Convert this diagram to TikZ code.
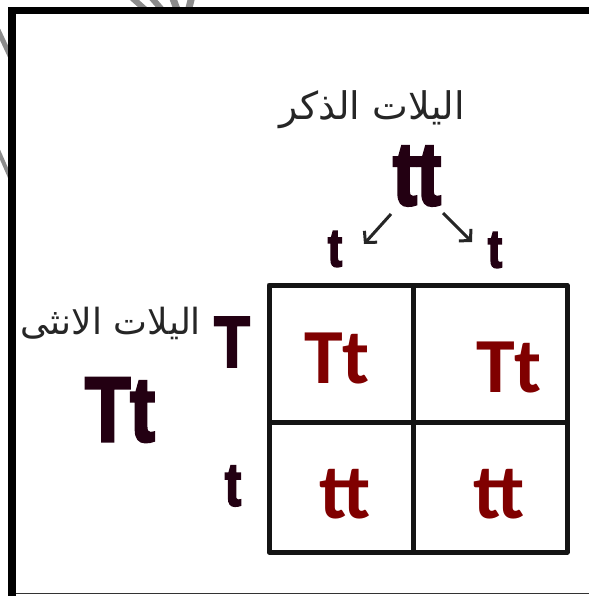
\documentclass[tikz,border=0pt]{standalone}
\usepackage{fontspec}
\usetikzlibrary{arrows.meta}
\TeXXeTstate=1
\newfontfamily\arabicfont[Script=Arabic]{DejaVu Sans}
\newfontfamily\heavy{Liberation Sans}[FakeStretch=0.8,FakeBold=3]
\newfontfamily\cellfont{Carlito}
\definecolor{inkdark}{RGB}{35,0,18}
\definecolor{cellred}{RGB}{128,0,0}
\definecolor{scribble}{RGB}{140,140,140}
\begin{document}
\begin{tikzpicture}[x=1pt,y=-1pt,
  allele/.style={inner sep=0pt, text=inkdark, font=\heavy\bfseries},
  celltxt/.style={inner sep=0pt, text=cellred, font=\cellfont\bfseries\fontsize{78}{80}\selectfont},
  arlabel/.style={inner sep=0pt, text=black!85},
  arr/.style={line width=3pt, draw=black!85, -{Straight Barb[length=8pt,width=17pt]}},
  gridline/.style={line width=5pt, draw=black!92, line join=round}]
\useasboundingbox (0,0) rectangle (589,596);
% gray scribble fragments outside the frame
\draw[scribble, line width=5pt] (-2,30) -- (12,60);
\draw[scribble, line width=4pt] (-2,150) -- (12,182);
\draw[scribble, line width=6pt] (130,-4) -- (148,12);
\draw[scribble, line width=6pt] (150,-4) -- (164,12);
\draw[scribble, line width=7pt] (172,-4) -- (178,12);
\draw[scribble, line width=7pt] (192,-4) -- (188,12);
\fill[white] (16,14) rectangle (589,592);
% frame
\fill[black] (8,7) rectangle (589,14);
\fill[black] (8,7) rectangle (16,596);
\draw[black!80, line width=1.5pt] (16,593.5) -- (589,593.5);
% labels
\node[arlabel, font=\arabicfont\fontsize{38}{40}\selectfont] (male) at (372,110) {\beginR اليلات الذكر\endR};
\node[arlabel, font=\arabicfont\fontsize{36}{38}\selectfont] (female) at (111,323) {\beginR اليلات الانثى\endR};
\node[allele, font=\heavy\bfseries\fontsize{90}{92}\selectfont] (tt) at (417,176) {tt};
\node[allele, font=\heavy\bfseries\fontsize{54}{56}\selectfont] (tl) at (335,249) {t};
\node[allele, font=\heavy\bfseries\fontsize{54}{56}\selectfont] (tr) at (495,250) {t};
\node[allele, font=\heavy\bfseries\fontsize{72}{74}\selectfont] (T) at (232,342) {T};
\node[allele, font=\heavy\bfseries\fontsize{61}{63}\selectfont] (tb) at (233,486) {t};
\node[allele, font=\heavy\bfseries\fontsize{92}{94}\selectfont] (Tt) at (120,410) {Tt};
% arrows
\coordinate (a1s) at (391,214);
\coordinate (a1e) at (364,244);
\coordinate (a2s) at (443,213);
\coordinate (a2e) at (472,242);
\draw[arr] (a1s) -- (a1e);
\draw[arr] (a2s) -- (a2e);
% punnett square
\draw[gridline] (269,285) rectangle (567,552);
\draw[gridline] (413,285) -- (413,552);
\draw[gridline] (269,422) -- (567,422);
\node[celltxt] (c11) at (337,358) {Tt};
\node[celltxt] (c12) at (509,367) {Tt};
\node[celltxt] (c21) at (345,494) {tt};
\node[celltxt] (c22) at (499,494) {tt};
\end{tikzpicture}
\end{document}
